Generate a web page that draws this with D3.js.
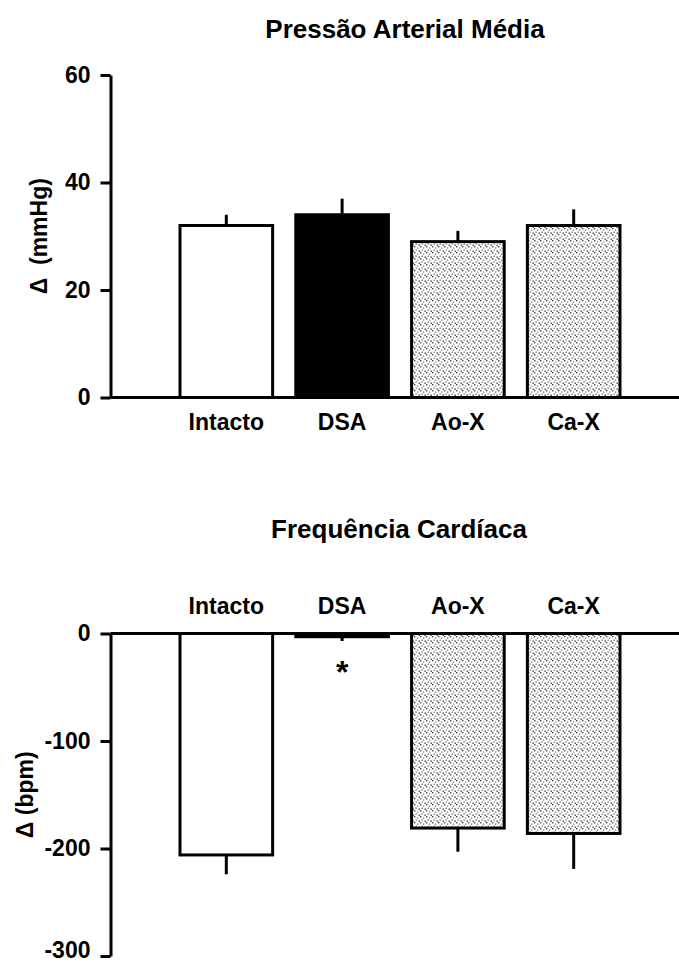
<!DOCTYPE html>
<html>
<head>
<meta charset="utf-8">
<script src="https://cdn.jsdelivr.net/npm/d3@7"></script>
<style>
  body { margin: 0; background: #fff; }
  text { font-family: Arial, "Liberation Sans", Helvetica, sans-serif; font-weight: bold; fill: #000; }
</style>
</head>
<body>
<svg id="chart" width="679" height="964"></svg>
<script>
// data
const categories = ["Intacto", "DSA", "Ao-X", "Ca-X"];
const pamValues = [32, 34, 29, 32];
const pamErrors = [2, 3, 2, 3];
const fcValues = [-206, -3, -181, -186];
const fcErrors = [18, 4, 22, 33];
const fcSignificant = [false, true, false, false];
const pamTicks = [0, 20, 40, 60];
const fcTicks = [0, -100, -200, -300];
const fills = ["#fff", "#000", "url(#stipple)", "url(#stipple)"];

const svg = d3.select("#chart");

// stipple pattern for the denervated groups
const pat = svg.append("defs").append("pattern")
  .attr("id", "stipple")
  .attr("patternUnits", "userSpaceOnUse")
  .attr("width", 6).attr("height", 6);
pat.append("rect").attr("width", 6).attr("height", 6).attr("fill", "#fff");
pat.append("rect").attr("x", 0).attr("y", 0).attr("width", 1.4).attr("height", 1.4).attr("fill", "#444");
pat.append("rect").attr("x", 3).attr("y", 1.5).attr("width", 1.3).attr("height", 1.3).attr("fill", "#777");
pat.append("rect").attr("x", 1.5).attr("y", 3.5).attr("width", 1.3).attr("height", 1.3).attr("fill", "#666");
pat.append("rect").attr("x", 4.5).attr("y", 4.5).attr("width", 1.4).attr("height", 1.4).attr("fill", "#444");

const axisX = 110.5;
const axisRight = 679;

const x = d3.scaleBand().domain(categories).range([180, 620]).paddingInner(0.2);

function panel(opts) {
  const g = svg.append("g");
  const y = d3.scaleLinear().domain(opts.domain).range(opts.range);
  const zero = y(0);

  // bars
  g.selectAll("rect.bar").data(categories)
    .join("rect")
    .attr("class", "bar")
    .attr("x", d => x(d))
    .attr("width", x.bandwidth())
    .attr("y", (d, i) => Math.min(y(opts.values[i]), zero))
    .attr("height", (d, i) => Math.abs(y(opts.values[i]) - zero))
    .attr("fill", (d, i) => fills[i])
    .attr("stroke", "#000")
    .attr("stroke-width", 3);

  // one-sided error bars
  g.selectAll("line.err").data(categories)
    .join("line")
    .attr("class", "err")
    .attr("x1", d => x(d) + x.bandwidth() / 2)
    .attr("x2", d => x(d) + x.bandwidth() / 2)
    .attr("y1", (d, i) => y(opts.values[i]))
    .attr("y2", (d, i) => y(opts.values[i] + Math.sign(opts.values[i]) * opts.errors[i]))
    .attr("stroke", "#000")
    .attr("stroke-width", 3);

  // y axis
  const ax = g.append("g")
    .attr("transform", `translate(${axisX},0)`)
    .call(d3.axisLeft(y).tickValues(opts.ticks).tickSize(10).tickSizeOuter(0).tickPadding(10)
      .tickFormat(d => String(d)));
  ax.select(".domain").attr("stroke-width", 3);
  ax.selectAll(".tick line").attr("stroke-width", 3);
  ax.selectAll(".tick text").style("font-size", "23px").attr("font-family", null);

  // zero line
  g.append("line")
    .attr("x1", axisX).attr("x2", axisRight)
    .attr("y1", zero).attr("y2", zero)
    .attr("stroke", "#000").attr("stroke-width", 3);

  // category labels
  g.selectAll("text.cat").data(categories)
    .join("text")
    .attr("class", "cat")
    .attr("x", d => x(d) + x.bandwidth() / 2)
    .attr("y", opts.catY)
    .attr("text-anchor", "middle")
    .style("font-size", "23px")
    .text(d => d);

  // title
  g.append("text")
    .attr("x", opts.titleX).attr("y", opts.titleY)
    .attr("text-anchor", "middle")
    .style("font-size", "26px")
    .text(opts.title);

  // y label
  const yMid = (opts.range[0] + opts.range[1]) / 2;
  g.append("text")
    .attr("transform", `translate(${opts.labelX},${yMid}) rotate(-90)`)
    .attr("text-anchor", "middle")
    .attr("dominant-baseline", "central")
    .style("font-size", "23px")
    .text(opts.label);

  return { g, y, ax };
}

panel({
  domain: [0, 60], range: [397.5, 75],
  values: pamValues, errors: pamErrors, ticks: pamTicks,
  catY: 430, title: "Pressão Arterial Média", titleX: 405, titleY: 38,
  label: "\u0394 \u00a0(mmHg)", labelX: 39
});

const fc = panel({
  domain: [-300, 0], range: [956, 633.5],
  values: fcValues, errors: fcErrors, ticks: fcTicks,
  catY: 614, title: "Frequência Cardíaca", titleX: 399, titleY: 538,
  label: "\u0394 (bpm)", labelX: 25
});

// keep the lowest tick label inside the page
fc.ax.selectAll(".tick text").filter(d => d === -300).attr("dy", "0.08em");

// significance marker
fc.g.selectAll("text.sig").data(categories.filter((d, i) => fcSignificant[i]))
  .join("text")
  .attr("class", "sig")
  .attr("x", d => x(d) + x.bandwidth() / 2)
  .attr("y", d => fc.y(fcValues[categories.indexOf(d)] - fcErrors[categories.indexOf(d)]) + 42)
  .attr("text-anchor", "middle")
  .style("font-size", "32px")
  .text("*");
</script>
</body>
</html>
